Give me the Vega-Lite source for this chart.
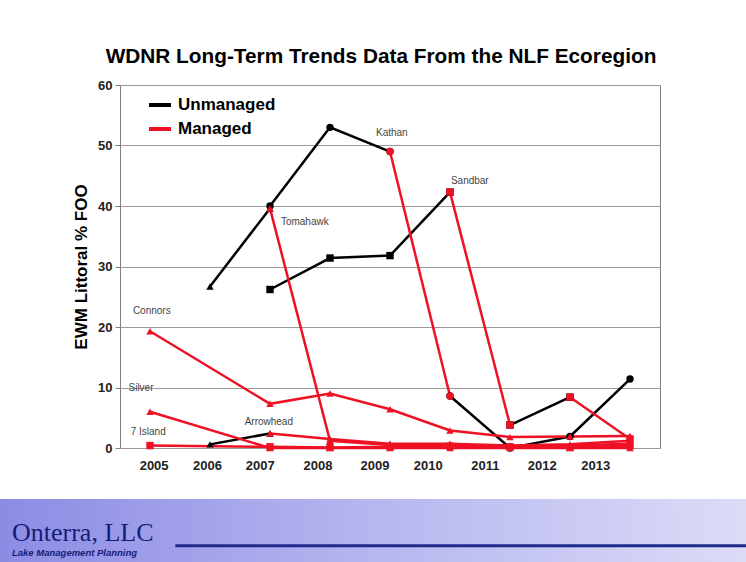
{
  "$schema": "https://vega.github.io/schema/vega-lite/v6.json",
  "background": "white",
  "padding": {"left": 0, "top": 45, "right": 0, "bottom": 0},
  "config": {
    "font": "Liberation Sans",
    "view": {"stroke": null},
    "concat": {"spacing": 0}
  },
  "datasets": {
    "obs": [
      {"lake": "Tomahawk", "status": "Unmanaged", "seg": "T1", "year": 2006, "value": 26.7},
      {"lake": "Tomahawk", "status": "Unmanaged", "seg": "T1", "year": 2007, "value": 39.6},
      {"lake": "Tomahawk", "status": "Managed", "seg": "T2", "year": 2007, "value": 39.6},
      {"lake": "Tomahawk", "status": "Managed", "seg": "T2", "year": 2008, "value": 1.2},
      {"lake": "Tomahawk", "status": "Managed", "seg": "T2", "year": 2009, "value": 0.5},
      {"lake": "Tomahawk", "status": "Managed", "seg": "T2", "year": 2010, "value": 0.5},
      {"lake": "Tomahawk", "status": "Managed", "seg": "T2", "year": 2011, "value": 0.3},
      {"lake": "Tomahawk", "status": "Managed", "seg": "T2", "year": 2012, "value": 0.4},
      {"lake": "Tomahawk", "status": "Managed", "seg": "T2", "year": 2013, "value": 0.7},
      {"lake": "Kathan", "status": "Unmanaged", "seg": "K1", "year": 2007, "value": 40.0},
      {"lake": "Kathan", "status": "Unmanaged", "seg": "K1", "year": 2008, "value": 53.0},
      {"lake": "Kathan", "status": "Unmanaged", "seg": "K1", "year": 2009, "value": 49.0},
      {"lake": "Kathan", "status": "Managed", "seg": "K2", "year": 2009, "value": 49.0},
      {"lake": "Kathan", "status": "Managed", "seg": "K2", "year": 2010, "value": 8.6},
      {"lake": "Kathan", "status": "Unmanaged", "seg": "K3", "year": 2010, "value": 8.6},
      {"lake": "Kathan", "status": "Unmanaged", "seg": "K3", "year": 2011, "value": 0.0},
      {"lake": "Kathan", "status": "Unmanaged", "seg": "K3", "year": 2012, "value": 1.9},
      {"lake": "Kathan", "status": "Unmanaged", "seg": "K3", "year": 2013, "value": 11.4},
      {"lake": "Sandbar", "status": "Unmanaged", "seg": "S1", "year": 2007, "value": 26.2},
      {"lake": "Sandbar", "status": "Unmanaged", "seg": "S1", "year": 2008, "value": 31.4},
      {"lake": "Sandbar", "status": "Unmanaged", "seg": "S1", "year": 2009, "value": 31.8},
      {"lake": "Sandbar", "status": "Unmanaged", "seg": "S1", "year": 2010, "value": 42.3},
      {"lake": "Sandbar", "status": "Managed", "seg": "S2", "year": 2010, "value": 42.3},
      {"lake": "Sandbar", "status": "Managed", "seg": "S2", "year": 2011, "value": 3.8},
      {"lake": "Sandbar", "status": "Unmanaged", "seg": "S3", "year": 2011, "value": 3.8},
      {"lake": "Sandbar", "status": "Unmanaged", "seg": "S3", "year": 2012, "value": 8.4},
      {"lake": "Sandbar", "status": "Managed", "seg": "S4", "year": 2012, "value": 8.4},
      {"lake": "Sandbar", "status": "Managed", "seg": "S4", "year": 2013, "value": 1.5},
      {"lake": "Arrowhead", "status": "Unmanaged", "seg": "A1", "year": 2006, "value": 0.6},
      {"lake": "Arrowhead", "status": "Unmanaged", "seg": "A1", "year": 2007, "value": 2.4},
      {"lake": "Arrowhead", "status": "Managed", "seg": "A2", "year": 2007, "value": 2.4},
      {"lake": "Arrowhead", "status": "Managed", "seg": "A2", "year": 2008, "value": 1.5},
      {"lake": "Arrowhead", "status": "Managed", "seg": "A2", "year": 2009, "value": 0.7},
      {"lake": "Arrowhead", "status": "Managed", "seg": "A2", "year": 2010, "value": 0.7},
      {"lake": "Arrowhead", "status": "Managed", "seg": "A2", "year": 2011, "value": 0.4},
      {"lake": "Arrowhead", "status": "Managed", "seg": "A2", "year": 2012, "value": 0.6},
      {"lake": "Arrowhead", "status": "Managed", "seg": "A2", "year": 2013, "value": 1.2},
      {"lake": "Connors", "status": "Managed", "seg": "C1", "year": 2005, "value": 19.3},
      {"lake": "Connors", "status": "Managed", "seg": "C1", "year": 2007, "value": 7.3},
      {"lake": "Connors", "status": "Managed", "seg": "C1", "year": 2008, "value": 9.0},
      {"lake": "Connors", "status": "Managed", "seg": "C1", "year": 2009, "value": 6.4},
      {"lake": "Connors", "status": "Managed", "seg": "C1", "year": 2010, "value": 2.9},
      {"lake": "Connors", "status": "Managed", "seg": "C1", "year": 2011, "value": 1.8},
      {"lake": "Connors", "status": "Managed", "seg": "C1", "year": 2012, "value": 1.9},
      {"lake": "Connors", "status": "Managed", "seg": "C1", "year": 2013, "value": 2.0},
      {"lake": "Silver", "status": "Managed", "seg": "Si1", "year": 2005, "value": 6.0},
      {"lake": "Silver", "status": "Managed", "seg": "Si1", "year": 2007, "value": 0.0},
      {"lake": "Silver", "status": "Managed", "seg": "Si1", "year": 2008, "value": 0.0},
      {"lake": "Silver", "status": "Managed", "seg": "Si1", "year": 2009, "value": 0.0},
      {"lake": "Silver", "status": "Managed", "seg": "Si1", "year": 2010, "value": 0.0},
      {"lake": "Silver", "status": "Managed", "seg": "Si1", "year": 2011, "value": 0.0},
      {"lake": "Silver", "status": "Managed", "seg": "Si1", "year": 2012, "value": 0.0},
      {"lake": "Silver", "status": "Managed", "seg": "Si1", "year": 2013, "value": 0.0},
      {"lake": "7 Island", "status": "Managed", "seg": "I1", "year": 2005, "value": 0.4},
      {"lake": "7 Island", "status": "Managed", "seg": "I1", "year": 2007, "value": 0.2},
      {"lake": "7 Island", "status": "Managed", "seg": "I1", "year": 2008, "value": 0.1},
      {"lake": "7 Island", "status": "Managed", "seg": "I1", "year": 2009, "value": 0.2},
      {"lake": "7 Island", "status": "Managed", "seg": "I1", "year": 2010, "value": 0.3},
      {"lake": "7 Island", "status": "Managed", "seg": "I1", "year": 2011, "value": 0.2},
      {"lake": "7 Island", "status": "Managed", "seg": "I1", "year": 2012, "value": 0.1},
      {"lake": "7 Island", "status": "Managed", "seg": "I1", "year": 2013, "value": 0.4}
    ],
    "labels": [
      {"name": "Kathan", "year": 2009.03, "value": 52.1},
      {"name": "Sandbar", "year": 2010.33, "value": 44.2},
      {"name": "Tomahawk", "year": 2007.58, "value": 37.3},
      {"name": "Connors", "year": 2005.03, "value": 22.7},
      {"name": "Silver", "year": 2004.85, "value": 9.9},
      {"name": "Arrowhead", "year": 2006.98, "value": 4.35},
      {"name": "7 Island", "year": 2004.97, "value": 2.6}
    ]
  },
  "vconcat": [
    {
      "hconcat": [
        {
          "width": 120,
          "height": 363,
          "view": {"stroke": null},
          "data": {"values": []},
          "mark": "point",
          "encoding": {}
        },
        {
          "width": 540,
          "height": 363,
          "view": {"stroke": "#7f7f7f", "fill": "white"},
          "title": {
            "text": "WDNR Long-Term Trends Data From the NLF Ecoregion",
            "fontSize": 20.8,
            "fontWeight": "bold",
            "color": "#000000",
            "anchor": "middle",
            "frame": "group",
            "dx": -9,
            "offset": 11
          },
          "encoding": {
            "x": {
              "field": "year",
              "type": "quantitative",
              "scale": {"domain": [2004.5, 2013.5], "nice": false, "zero": false},
              "axis": {
                "title": null,
                "values": [2005.06, 2005.95, 2006.83, 2007.79, 2008.74, 2009.63, 2010.58, 2011.53, 2012.42],
                "labelExpr": "format(round(2005 + (datum.value - 2005.06) / 0.92), 'd')",
                "grid": false,
                "ticks": false,
                "domain": false,
                "labelFontSize": 13,
                "labelFontWeight": "bold",
                "labelColor": "#222222",
                "labelPadding": 11,
                "labelFlush": false
              }
            },
            "y": {
              "field": "value",
              "type": "quantitative",
              "scale": {"domain": [0, 60], "nice": false, "zero": true},
              "axis": {
                "title": "EWM Littoral % FOO",
                "titleFontSize": 17,
                "titleFontWeight": "bold",
                "titleColor": "#000000",
                "titlePadding": 7,
                "values": [0, 10, 20, 30, 40, 50, 60],
                "grid": true,
                "gridColor": "#9a9a9a",
                "gridWidth": 1.2,
                "domainColor": "#808080",
                "tickColor": "#808080",
                "tickSize": 5,
                "labelFontSize": 13,
                "labelFontWeight": "bold",
                "labelColor": "#222222",
                "labelPadding": 3
              }
            }
          },
          "layer": [
            {
              "data": {"name": "obs"},
              "transform": [{"filter": "datum.status == 'Unmanaged'"}],
              "mark": {"type": "line", "strokeWidth": 2.5},
              "encoding": {
                "detail": {"field": "seg", "type": "nominal"},
                "color": {
                  "field": "status",
                  "type": "nominal",
                  "scale": {"domain": ["Unmanaged", "Managed"], "range": ["#000000", "#ee1124"]},
                  "legend": {
                    "title": null,
                    "orient": "none",
                    "legendX": 147,
                    "legendY": 7,
                    "symbolType": "stroke",
                    "symbolSize": 484,
                    "symbolStrokeWidth": 4,
                    "labelFontSize": 17,
                    "labelFontWeight": "bold",
                    "labelColor": "#000000",
                    "labelOffset": 5,
                    "rowPadding": 3,
                    "padding": 0
                  }
                }
              }
            },
            {
              "data": {"name": "obs"},
              "transform": [{"filter": "datum.status == 'Managed'"}],
              "mark": {"type": "line", "strokeWidth": 2.5},
              "encoding": {
                "detail": {"field": "seg", "type": "nominal"},
                "color": {"field": "status", "type": "nominal", "legend": null}
              }
            },
            {
              "data": {"name": "obs"},
              "transform": [{"filter": "datum.status == 'Unmanaged'"}],
              "mark": {"type": "point", "filled": true, "opacity": 1, "size": 55},
              "encoding": {
                "color": {"field": "status", "type": "nominal", "legend": null},
                "shape": {
                  "field": "lake",
                  "type": "nominal",
                  "scale": {
                    "domain": ["Tomahawk", "Kathan", "Sandbar", "Arrowhead", "Connors", "Silver", "7 Island"],
                    "range": ["triangle-up", "circle", "square", "triangle-up", "triangle-up", "triangle-up", "square"]
                  },
                  "legend": null
                }
              }
            },
            {
              "data": {"name": "obs"},
              "transform": [{"filter": "datum.status == 'Managed'"}],
              "mark": {"type": "point", "filled": true, "opacity": 1, "size": 55},
              "encoding": {
                "color": {"field": "status", "type": "nominal", "legend": null},
                "shape": {"field": "lake", "type": "nominal", "legend": null}
              }
            },
            {
              "data": {"name": "labels"},
              "mark": {"type": "text", "fontSize": 10, "color": "#444444", "align": "center", "baseline": "middle"},
              "encoding": {
                "text": {"field": "name", "type": "nominal"}
              }
            }
          ]
        }
      ],
      "spacing": 0,
      "bounds": "flush"
    },
    {
      "width": 746,
      "height": 64,
      "view": {
        "stroke": null,
        "fill": {
          "gradient": "linear",
          "x1": 0, "y1": 0, "x2": 1, "y2": 0,
          "stops": [
            {"offset": 0, "color": "#8c8ce4"},
            {"offset": 0.5, "color": "#b6b6f0"},
            {"offset": 1, "color": "#dcdcf7"}
          ]
        }
      },
      "title": {
        "text": "Onterra, LLC",
        "subtitle": "Lake Management Planning",
        "anchor": "start",
        "frame": "group",
        "orient": "top",
        "offset": -58,
        "dx": 12,
        "font": "Liberation Serif",
        "fontSize": 26,
        "fontWeight": "normal",
        "color": "#141c78",
        "subtitleFont": "Liberation Sans",
        "subtitleFontSize": 9.5,
        "subtitleFontStyle": "italic",
        "subtitleFontWeight": "bold",
        "subtitleColor": "#141c78",
        "subtitlePadding": 2
      },
      "data": {"values": [{}]},
      "mark": {"type": "rule", "color": "#1f2a8a", "strokeWidth": 3},
      "encoding": {
        "x": {"datum": 0.235, "type": "quantitative", "scale": {"domain": [0, 1]}, "axis": null},
        "x2": {"datum": 1},
        "y": {"datum": 0.27, "type": "quantitative", "scale": {"domain": [0, 1]}, "axis": null}
      }
    }
  ],
  "spacing": 26
}
